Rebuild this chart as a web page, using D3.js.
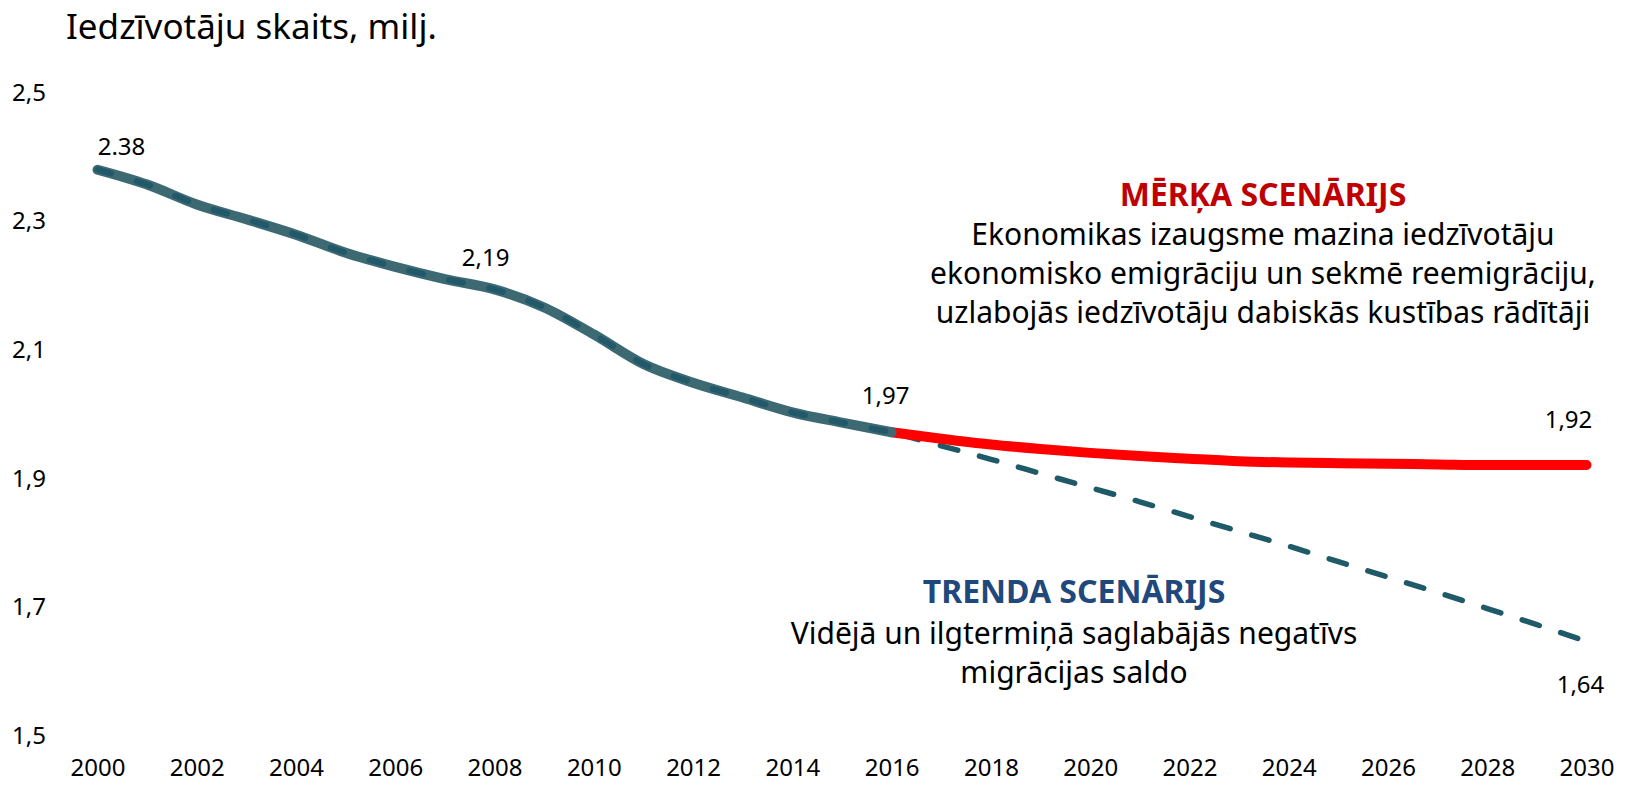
<!DOCTYPE html>
<html>
<head>
<meta charset="utf-8">
<script src="https://cdn.jsdelivr.net/npm/d3@7"></script>
<style>
  body { margin: 0; background: #fff; }
  svg text { font-family: "Noto Sans", "Open Sans", sans-serif; fill: #000; }
</style>
</head>
<body>
<div class="container"></div>
<script>
"use strict";

// data
const histYears = d3.range(2000, 2017)
const histValues = [2.38, 2.357, 2.326, 2.303, 2.279, 2.251, 2.229, 2.21, 2.194, 2.166, 2.124, 2.078, 2.049, 2.026, 2.003, 1.987, 1.972]

const futureYears = d3.range(2016, 2031)
const targetValues = [1.972, 1.962, 1.953, 1.946, 1.94, 1.935, 1.931, 1.927, 1.925, 1.924, 1.923, 1.922, 1.921, 1.921, 1.921]
const trendValues = [1.972, 1.951, 1.930, 1.908, 1.886, 1.864, 1.841, 1.818, 1.795, 1.771, 1.747, 1.723, 1.698, 1.673, 1.647]

const yTicks = [1.5, 1.7, 1.9, 2.1, 2.3, 2.5]
const xTicks = d3.range(2000, 2031, 2)

// value labels: which point, and what it says
const labelYears = [2000, 2008, 2016, 2030, 2030]
const labelValues = [2.38, 2.194, 1.972, 1.921, 1.647]
const labelTexts = ['2.38', '2,19', '1,97', '1,92', '1,64']
// offsets of those labels from their point (px)
const labelOffsets = [[24, -15], [-9, -23], [-6, -28], [-18, -37], [-6, 52]]

const targetTitle = 'MĒRĶA SCENĀRIJS'
const targetText = ['Ekonomikas izaugsme mazina iedzīvotāju', 'ekonomisko emigrāciju un sekmē reemigrāciju,', 'uzlabojās iedzīvotāju dabiskās kustības rādītāji']
const trendTitle = 'TRENDA SCENĀRIJS'
const trendText = ['Vidējā un ilgtermiņā saglabājās negatīvs', 'migrācijas saldo']

const p = {
	width: 1625,
	height: 786,
	left: 97.5,
	right: 1586.5,
	top: 92.5,
	bottom: 736
}

const svg = d3.select('.container')
	.append('svg')
	.attr('width', p.width)
	.attr('height', p.height)

const x = d3.scaleLinear().domain([2000, 2030]).range([p.left, p.right])
const y = d3.scaleLinear().domain([1.5, 2.5]).range([p.bottom, p.top])

//title
svg.append('text')
	.attr('x', 66)
	.attr('y', 39)
	.style('font-size', '35px')
	.text('Iedzīvotāju skaits, milj.')

//y axis labels, no line
const yAxis = svg.append('g')
	.attr('transform', 'translate(12,0)')
	.call(d3.axisRight(y).tickValues(yTicks).tickSize(0).tickFormat(d => d3.format('.1f')(d).replace('.', ',')))
yAxis.select('.domain').remove()
yAxis.selectAll('text')
	.attr('x', 0)
	.style('font-size', '24px')
	.style('font-family', '"Noto Sans", sans-serif')

//x axis labels
const xAxis = svg.append('g')
	.attr('transform', 'translate(0,' + (p.bottom + 20) + ')')
	.call(d3.axisBottom(x).tickValues(xTicks).tickSize(0).tickFormat(d3.format('d')))
xAxis.select('.domain').remove()
xAxis.selectAll('text')
	.style('font-size', '24px')
	.style('font-family', '"Noto Sans", sans-serif')

const line = d3.line()
	.x(d => x(d[0]))
	.y(d => y(d[1]))
	.curve(d3.curveMonotoneX)

const hist = d3.zip(histYears, histValues)
const target = d3.zip(futureYears, targetValues)
const trend = d3.zip(futureYears, trendValues)

//trend scenario, dashed
svg.append('path')
	.datum(trend)
	.attr('d', line)
	.attr('fill', 'none')
	.attr('stroke', '#1f5a68')
	.attr('stroke-width', 5.5)
	.attr('stroke-linecap', 'round')
	.attr('stroke-dasharray', '18 22.5')
	.attr('stroke-dashoffset', -10)

//target scenario
svg.append('path')
	.datum(target)
	.attr('d', line)
	.attr('fill', 'none')
	.attr('stroke', '#ff0000')
	.attr('stroke-width', 10)
	.attr('stroke-linecap', 'round')

//history: solid base plus darker dashes on top
svg.append('path')
	.datum(hist)
	.attr('d', line)
	.attr('fill', 'none')
	.attr('stroke', '#3d6a72')
	.attr('stroke-width', 10)
	.attr('stroke-linecap', 'round')
svg.append('path')
	.datum(hist)
	.attr('d', line)
	.attr('fill', 'none')
	.attr('stroke', '#21586a')
	.attr('stroke-width', 6)
	.attr('stroke-linecap', 'round')
	.attr('stroke-dasharray', '14 27')

//value labels
svg.selectAll('.plabel')
	.data(labelTexts)
	.enter()
	.append('text')
	.attr('class', 'plabel')
	.attr('x', (d, i) => x(labelYears[i]) + labelOffsets[i][0])
	.attr('y', (d, i) => y(labelValues[i]) + labelOffsets[i][1])
	.attr('text-anchor', 'middle')
	.style('font-size', '24px')
	.text(d => d)

//scenario notes
function note(cx, cy, gap, title, color, lines) {
	svg.append('text')
		.attr('x', cx)
		.attr('y', cy)
		.attr('text-anchor', 'middle')
		.style('font-size', '32px')
		.style('font-weight', 'bold')
		.style('fill', color)
		.text(title)
	lines.forEach(function(t, i) {
		svg.append('text')
			.attr('x', cx)
			.attr('y', cy + gap + 39 * i)
			.attr('text-anchor', 'middle')
			.style('font-size', '30px')
			.text(t)
	})
}
note(1263, 206, 39, targetTitle, '#c00000', targetText)
note(1074, 603, 41, trendTitle, '#1f497d', trendText)
</script>
</body>
</html>
